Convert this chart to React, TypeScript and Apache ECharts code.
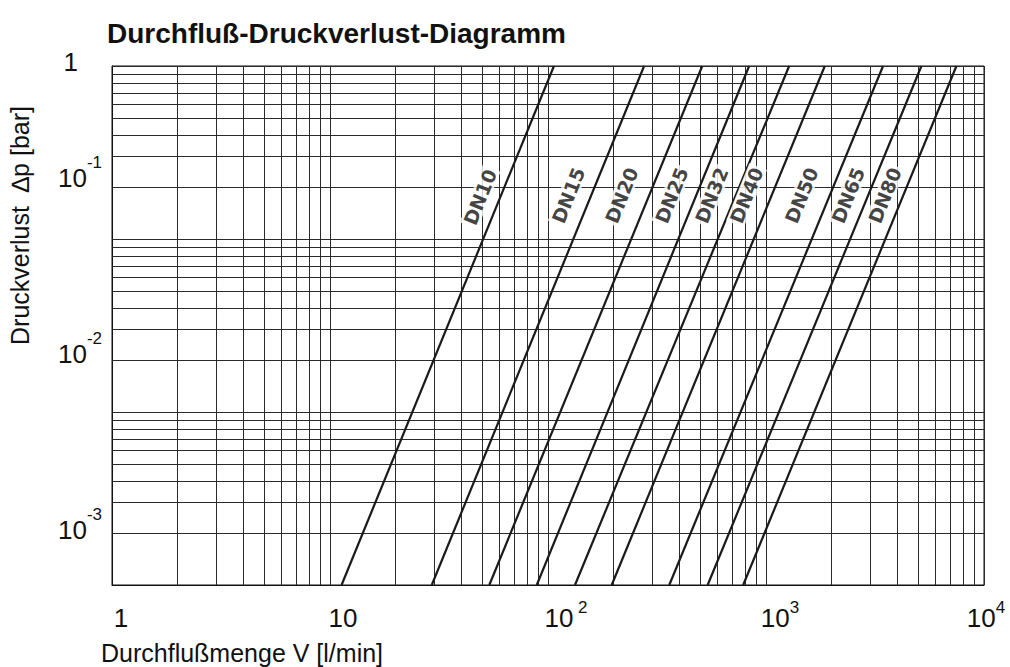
import React, { useEffect, useRef } from 'react';
import * as echarts from 'echarts';

// ---------- data ----------
const titleText = 'Durchfluß-Druckverlust-Diagramm';
const xAxisName = 'Durchflußmenge V [l/min]';
const yAxisName = 'Druckverlust  \u2206p [bar]';

const seriesNames = ['DN10', 'DN15', 'DN20', 'DN25', 'DN32', 'DN40', 'DN50', 'DN65', 'DN80'];
// flow [l/min] where each line meets Δp = 0.001 bar (bottom) and Δp = 1 bar (top)
const flowAtBottom = [11.3, 29.3, 53.8, 88.8, 133, 196, 360, 540, 786];
const flowAtTop = [106.5, 276, 510, 837, 1277, 1861, 3443, 5164, 7473];
const pressureBottom = 0.001;
const pressureTop = 1;

// where the DN labels sit (data coordinates)
const labelFlow = [48.8, 123.9, 217.7, 369, 563, 814, 1455, 2380, 3507];
const labelPressure = [0.175, 0.179, 0.179, 0.179, 0.179, 0.179, 0.179, 0.179, 0.179];

// tick labels
const xTickBase = ['1', '10', '10', '10', '10'];
const xTickExp = ['', '', ' 2', '3', '4'];
const yTickExp = ['-1', '-2', '-3'];

// logarithmic grid
const gridMantissas = [2, 3, 4, 5, 6, 7, 8, 9, 10];
const xDecadeStarts = [1, 10, 100, 1000];
const yDecadeStarts = [0.001, 0.01, 0.1];

// ---------- layout / style ----------
const FONT = "'Liberation Sans', Arial, Helvetica, sans-serif";
const TEXT = '#111111';
const GRIDC = '#2a2a2a';
const xLabelNudge = [18, 26, 36, 28, 4];
// the printed decade labels of the y axis sit a bit above the grid decades
const yLabelAxisMin = Math.pow(10, -3.3125);
const yLabelAxisMax = Math.pow(10, -0.3636);

export default function App() {
  const ref = useRef<HTMLDivElement>(null);

  useEffect(() => {
    if (!ref.current) return;
    const chart = echarts.init(ref.current, undefined, { renderer: 'svg' });

    const xGrid: number[] = [];
    xDecadeStarts.forEach((d) => gridMantissas.forEach((m) => xGrid.push(m * d)));
    const yGrid: number[] = [];
    yDecadeStarts.forEach((d) => gridMantissas.forEach((m) => yGrid.push(m * d)));

    const xRich: any = {
      s: { fontFamily: FONT, fontSize: 17, color: TEXT, padding: [0, 0, 22, 0] },
    };
    xLabelNudge.forEach((n, i) => {
      xRich['b' + i] = { fontFamily: FONT, fontSize: 26, color: TEXT, lineHeight: 40, padding: [0, 0, 0, n] };
    });

    const gridMarkLine = {
      silent: true,
      symbol: ['none', 'none'],
      label: { show: false },
      precision: 10,
      z: 3,
      emphasis: { disabled: true },
      lineStyle: { color: GRIDC, width: 1, type: 'solid', opacity: 1 },
      data: [
        ...xGrid.map((v) => ({ xAxis: v })),
        ...yGrid.map((v) => ({ yAxis: v })),
      ],
    };

    const lineSeries = seriesNames.map((name, i) => ({
      type: 'line',
      name,
      data: [
        [flowAtBottom[i], pressureBottom],
        [flowAtTop[i], pressureTop],
      ],
      symbol: 'none',
      showSymbol: false,
      silent: true,
      z: 4,
      lineStyle: { color: '#1a1a1a', width: 2.2 },
      ...(i === 0 ? { markLine: gridMarkLine } : {}),
    }));

    const labelSeries = {
      type: 'scatter',
      name: 'labels',
      silent: true,
      z: 10,
      symbolSize: 1,
      itemStyle: { color: 'rgba(0,0,0,0)' },
      data: seriesNames.map((n, i) => ({ name: n, value: [labelFlow[i], labelPressure[i]] })),
      label: {
        show: true,
        position: 'inside',
        formatter: '{b}',
        rotate: 68,
        fontFamily: "'DejaVu Sans', sans-serif",
        fontWeight: 'bold',
        fontSize: 19,
        color: TEXT,
        backgroundColor: '#ffffff',
        padding: [0, 2],
      },
    };

    const option: any = {
      animation: false,
      backgroundColor: '#ffffff',
      title: {
        text: titleText,
        left: 107,
        top: 19,
        padding: 0,
        textStyle: { fontFamily: FONT, fontWeight: 'bold', fontSize: 28, color: TEXT },
      },
      grid: {
        left: 112,
        right: 26,
        top: 66,
        bottom: 82,
        containLabel: false,
        outerBoundsMode: 'none',
        show: true,
        borderColor: TEXT,
        borderWidth: 1,
        backgroundColor: 'transparent',
      },
      xAxis: {
        type: 'log',
        logBase: 10,
        min: 1,
        max: 10000,
        axisLine: { show: true, lineStyle: { color: TEXT, width: 1 } },
        axisTick: { show: false },
        splitLine: { show: false },
        minorTick: { show: false },
        minorSplitLine: { show: false },
        axisLabel: {
          show: true,
          margin: 13,
          showMinLabel: true,
          showMaxLabel: true,
          formatter: (v: number) => {
            const i = Math.round(Math.log10(v));
            if (i < 0 || i > 4) return '';
            return `{b${i}|${xTickBase[i]}}` + (xTickExp[i] ? `{s|${xTickExp[i]}}` : '');
          },
          rich: xRich,
        },
        name: xAxisName,
        nameLocation: 'start',
        nameGap: 11,
        nameTextStyle: {
          fontFamily: FONT,
          fontSize: 25,
          color: TEXT,
          align: 'left',
          verticalAlign: 'top',
          padding: [55, 0, 0, 0],
        },
      },
      yAxis: [
        {
          type: 'log',
          logBase: 10,
          min: pressureBottom,
          max: pressureTop,
          position: 'left',
          axisLine: { show: true, lineStyle: { color: TEXT, width: 1 } },
          axisTick: { show: false },
          splitLine: { show: false },
          minorTick: { show: false },
          minorSplitLine: { show: false },
          axisLabel: {
            margin: 34,
            showMaxLabel: true,
            formatter: (v: number) => (Math.abs(Math.log10(v)) < 1e-6 ? '{b|1}' : ''),
            rich: { b: { fontFamily: FONT, fontSize: 26, color: TEXT, padding: [0, 0, 8, 0] } },
          },
          name: yAxisName,
          nameLocation: 'middle',
          nameRotate: 90,
          nameGap: 80,
          nameTextStyle: { fontFamily: FONT, fontSize: 25, color: TEXT, padding: [0, 0, 0, 200] },
        },
        {
          type: 'log',
          logBase: 10,
          min: yLabelAxisMin,
          max: yLabelAxisMax,
          position: 'left',
          axisLine: { show: false },
          axisTick: { show: false },
          splitLine: { show: false },
          minorTick: { show: false },
          minorSplitLine: { show: false },
          axisLabel: {
            margin: 10,
            showMinLabel: false,
            showMaxLabel: false,
            formatter: (v: number) => {
              const e = Math.log10(v);
              const r = Math.round(e);
              if (Math.abs(e - r) > 1e-6) return '';
              const idx = -r - 1;
              if (idx < 0 || idx >= yTickExp.length) return '';
              return `{b|10}{s|${yTickExp[idx]}}`;
            },
            rich: {
              b: { fontFamily: FONT, fontSize: 26, color: TEXT, lineHeight: 50 },
              s: { fontFamily: FONT, fontSize: 17, color: TEXT, padding: [0, 0, 32, 0] },
            },
          },
        },
      ],
      series: [...lineSeries, labelSeries],
    };

    chart.setOption(option);
    return () => {
      chart.dispose();
    };
  }, []);

  return (
    <div
      ref={ref}
      style={{ position: 'absolute', left: 0, top: 0, width: 1010, height: 667, background: '#fff' }}
    />
  );
}
